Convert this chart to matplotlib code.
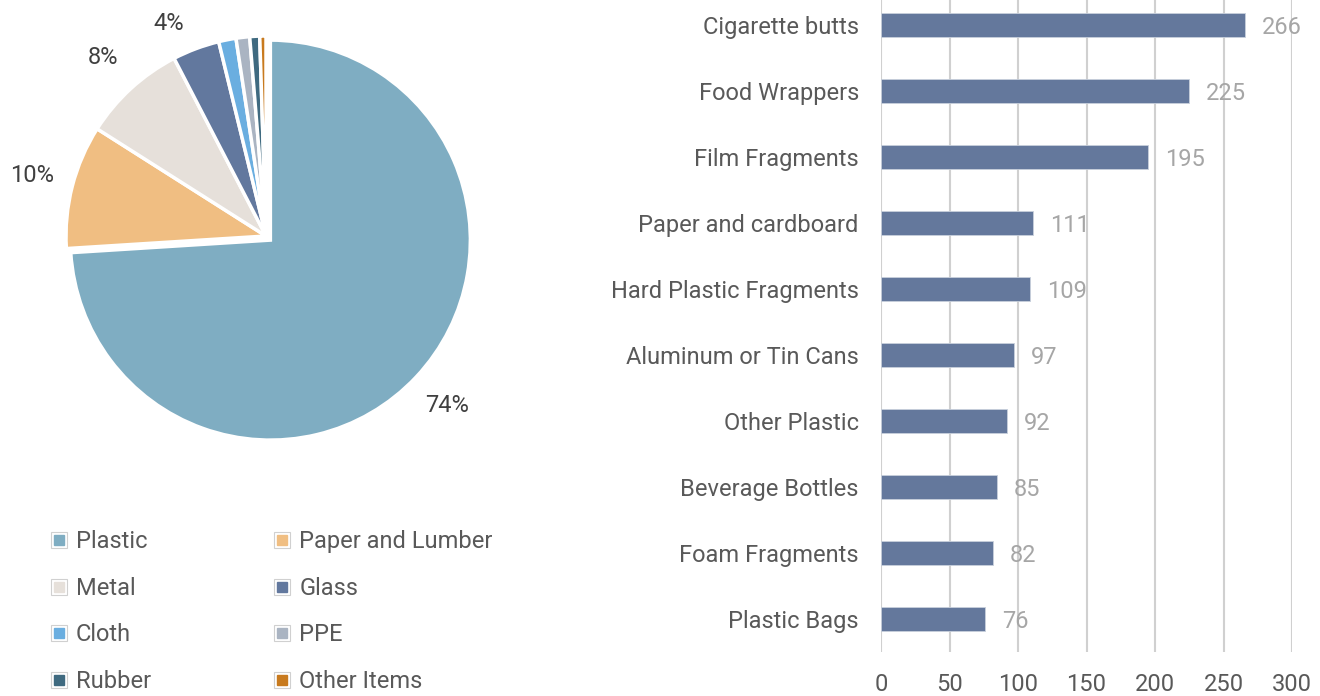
import matplotlib
matplotlib.use('Agg')
import matplotlib.pyplot as plt
import numpy as np
from matplotlib.lines import Line2D

plt.rcParams['font.family'] = ['Roboto', 'DejaVu Sans']

# material share of collected litter (percent)
materials = ['Plastic', 'Paper and Lumber', 'Metal', 'Glass',
             'Cloth', 'PPE', 'Rubber', 'Other Items']
shares = [74.0, 10.0, 8.4, 3.8, 1.4, 1.1, 0.8, 0.5]
material_colors = ['#7fadc2', '#f0be82', '#e6e0da', '#62789e',
                   '#6aaee0', '#aab4c2', '#3f6a80', '#c87a1e']

# top ten item counts
items = ['Cigarette butts', 'Food Wrappers', 'Film Fragments', 'Paper and cardboard',
         'Hard Plastic Fragments', 'Aluminum or Tin Cans', 'Other Plastic',
         'Beverage Bottles', 'Foam Fragments', 'Plastic Bags']
counts = [266, 225, 195, 111, 109, 97, 92, 85, 82, 76]
count_ticks = [0, 50, 100, 150, 200, 250, 300]

FS = 17
W, H = 1320, 696
fig = plt.figure(figsize=(W / 100, H / 100), dpi=100)

# ---- pie ----
cx, cy, r = 266, 236, 200
ax_pie = fig.add_axes([(cx - r) / W, (H - cy - r) / H, 2 * r / W, 2 * r / H])


def pct_label(p):
    return f'{p:.0f}%' if p >= 3 else ''


explode = [0.03] + [0] * (len(shares) - 1)
wedges, texts, autotexts = ax_pie.pie(
    shares, colors=material_colors, startangle=90, counterclock=False,
    explode=explode, autopct=pct_label, pctdistance=1.21,
    wedgeprops=dict(edgecolor='white', linewidth=2.5),
    textprops=dict(fontsize=FS, color='#404040'))
# the narrow glass label sits a little further round, clear of the rim
for w, t, s in zip(wedges, autotexts, shares):
    if 3 <= s < 5:
        ang = np.deg2rad((w.theta1 + w.theta2) / 2 + 4)
        t.set_position((1.17 * np.cos(ang), 1.17 * np.sin(ang)))
ax_pie.set_xlim(-1, 1)
ax_pie.set_ylim(-1, 1)
ax_pie.set_aspect('equal')

handles = [(Line2D([], [], ls='none', marker='s', markersize=11, markerfacecolor='white',
                   markeredgecolor='#d0d0d0', markeredgewidth=0.8),
            Line2D([], [], ls='none', marker='s', markersize=7, markerfacecolor=c,
                   markeredgecolor=c))
           for c in material_colors]
# legend fills column by column, so interleave to read row by row
order = [0, 2, 4, 6, 1, 3, 5, 7]
fig.legend([handles[i] for i in order], [materials[i] for i in order], ncol=2,
           loc='upper left', bbox_to_anchor=(28 / W, 1 - 509 / H), frameon=False,
           fontsize=FS, labelcolor='#595959', handlelength=0.8, handletextpad=0.33,
           labelspacing=1.0, columnspacing=5.15)

# ---- bars ----
x0, x1 = 881, 1292
ax_bar = fig.add_axes([x0 / W, (H - 652) / H, (x1 - x0) / W, 660 / H])
ypos = list(range(len(items)))
ax_bar.barh(ypos, counts, height=0.36, color='#64789c', edgecolor='#c8d0dc',
            linewidth=0.6, zorder=3)
for y, v in zip(ypos, counts):
    ax_bar.annotate(str(v), (v, y), xytext=(12, 0), textcoords='offset points',
                    ha='left', va='center_baseline', fontsize=FS, color='#a6a6a6', zorder=4)
ax_bar.set_xlim(0, 300)
ax_bar.set_ylim(len(items) - 0.5, -0.5)
ax_bar.set_xticks(count_ticks)
ax_bar.set_yticks(ypos)
ax_bar.set_yticklabels(items)
ax_bar.tick_params(axis='both', length=0, labelsize=FS, labelcolor='#595959')
ax_bar.tick_params(axis='y', pad=16)
ax_bar.tick_params(axis='x', pad=15)
ax_bar.grid(axis='x', color='#d0d0d0', linewidth=1.5, zorder=0)
for s in ax_bar.spines.values():
    s.set_visible(False)

fig.savefig('out.png', dpi=100, facecolor='white')
